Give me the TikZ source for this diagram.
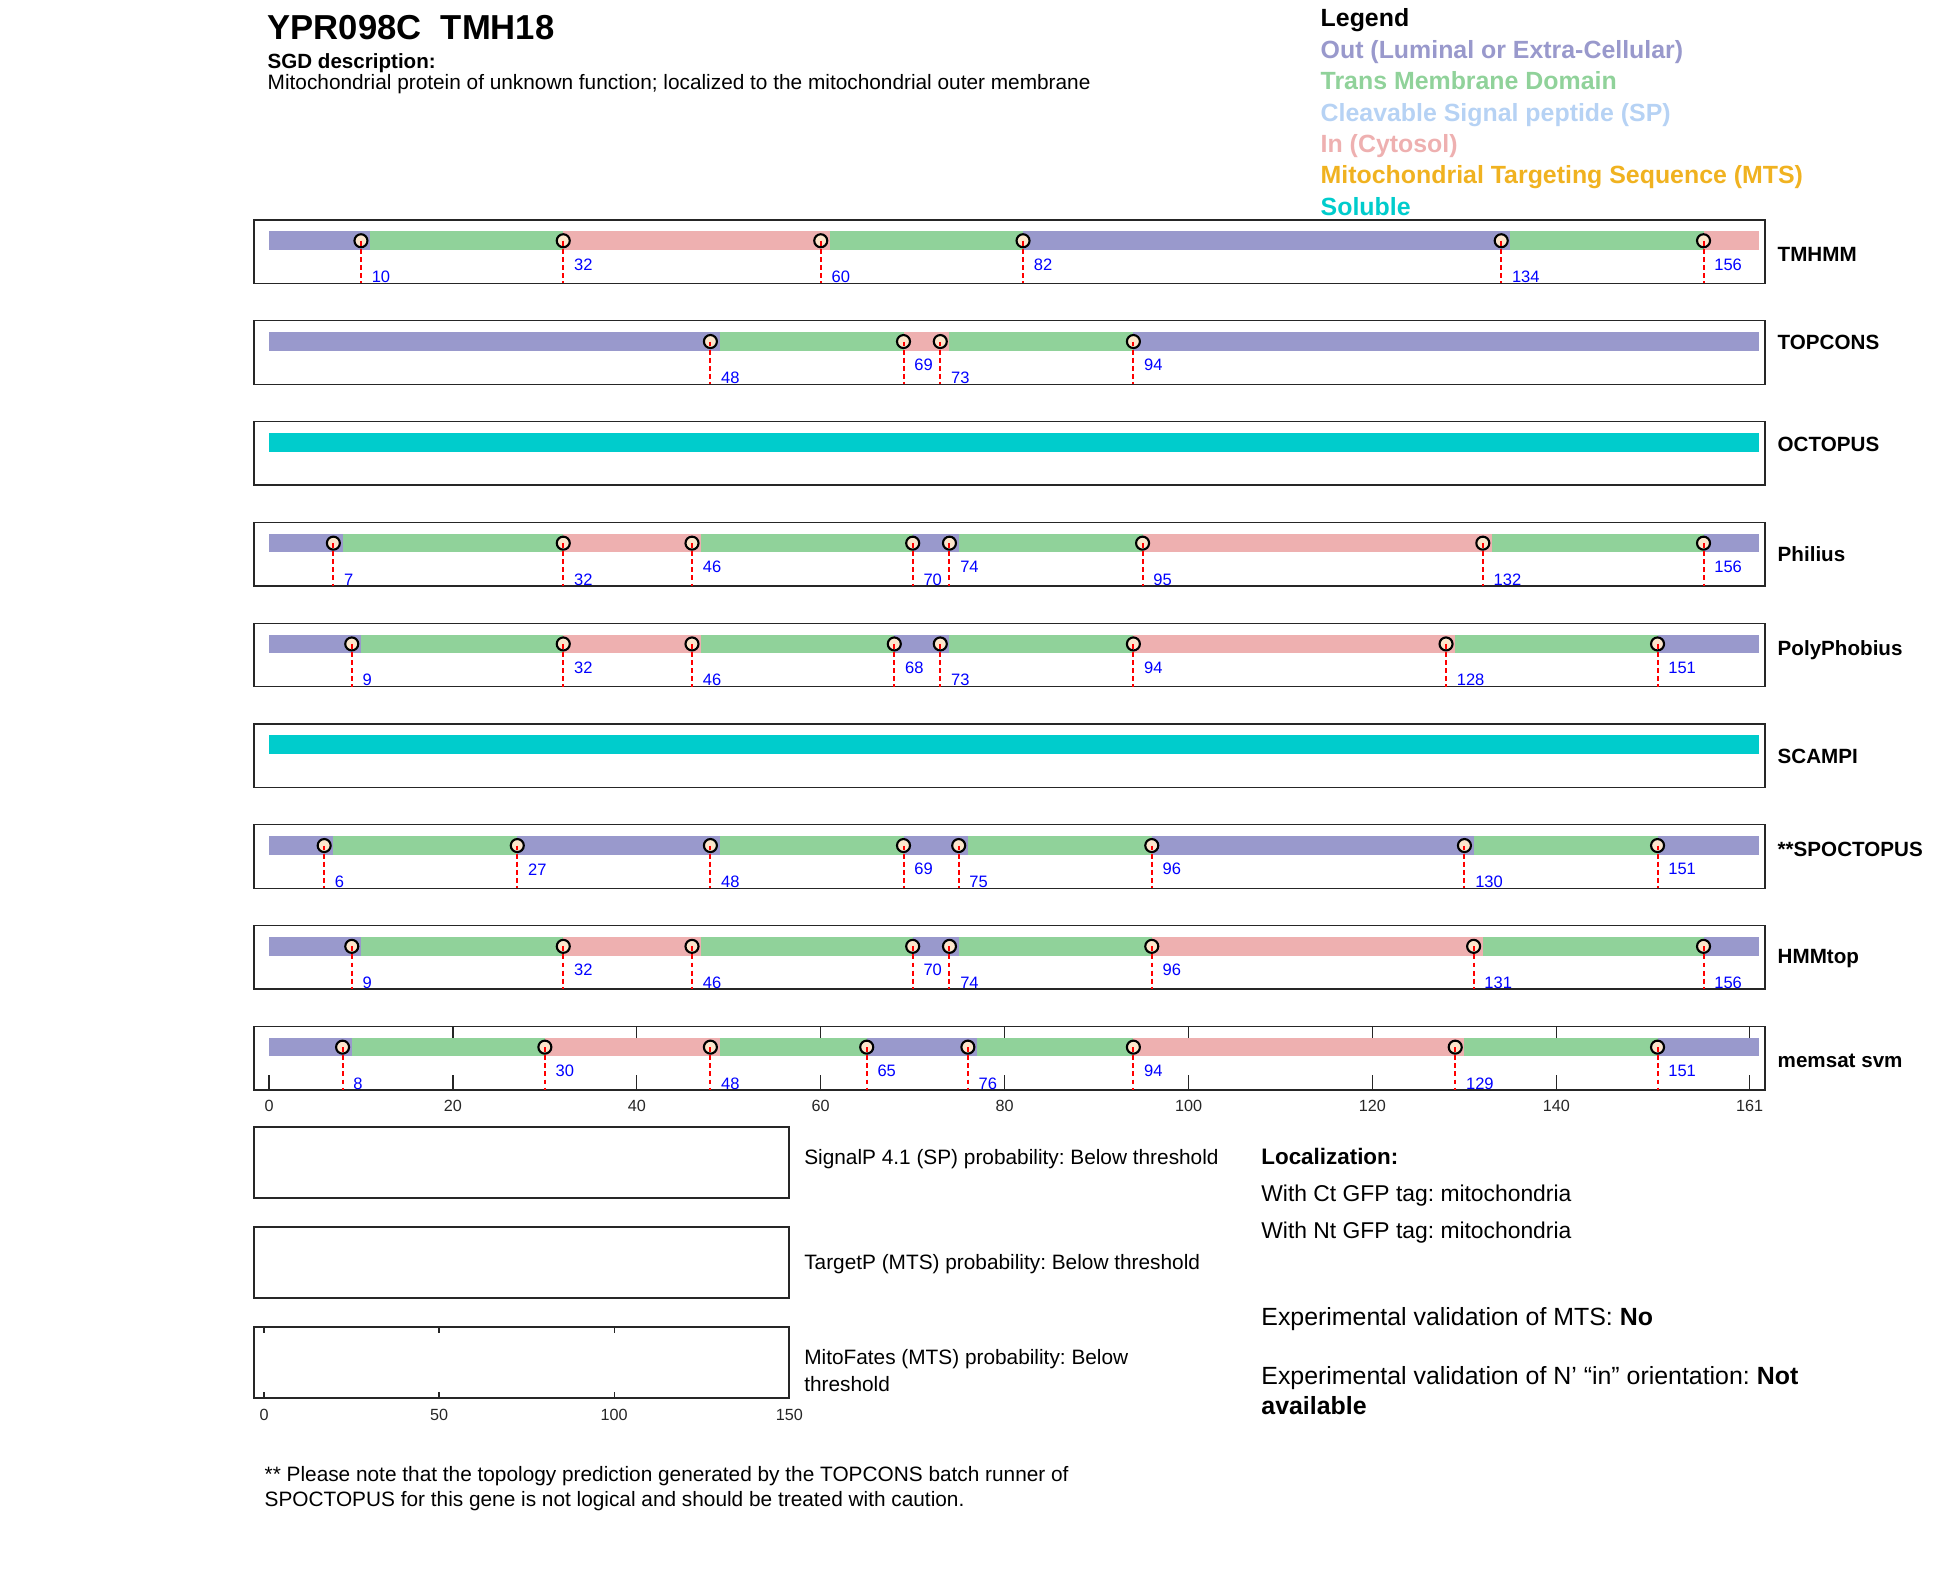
\documentclass[tikz,border=0pt]{standalone}
\usepackage{fontspec}
\setmainfont{Liberation Sans}
\frenchspacing

\definecolor{coulOut}{RGB}{153,153,204}
\definecolor{coulTM}{RGB}{144,210,154}
\definecolor{coulSP}{RGB}{182,210,244}
\definecolor{coulIn}{RGB}{238,176,176}
\definecolor{coulMTS}{RGB}{240,178,32}
\definecolor{coulSol}{RGB}{0,204,204}
\definecolor{axe}{RGB}{38,38,38}
\definecolor{peau}{RGB}{252,230,204}

\newcommand{\taille}[1]{\fontsize{#1pt}{#1pt}\selectfont}

\tikzset{
  cadre/.style={draw=axe, line width=0.37pt},
  repere/.style={circle, draw=black, fill=peau, line width=0.6pt, minimum size=3.7pt, inner sep=0pt},
  tirets/.style={red, line width=0.57pt, dash pattern=on 1.4pt off 0.9pt},
  numero/.style={blue, anchor=west, inner sep=0pt, font=\taille{4.7}},
  methode/.style={anchor=base west, inner sep=0pt, font=\taille{5.86}\bfseries},
  legende/.style={anchor=base west, inner sep=0pt, font=\taille{7.08}\bfseries},
  texte/.style={anchor=base west, inner sep=0pt, font=\taille{5.92}},
  graduation/.style={axe, line width=0.37pt},
  etiq/.style={axe, inner sep=0pt, font=\taille{4.6}},
}

% une piste : #1 nom, #2 haut du cadre, #3 troncons, #4 reperes, #5 methode, #6 ligne de base
\newcommand{\piste}[6]{%
  \begin{scope}[shift={(269,#2)}, x=0.0919cm]
    \foreach \a/\b/\c in {#3}
      \fill[\c] (\a,11.5) rectangle (\b,30);
    \draw[cadre] (-1.632,0) rectangle (162.68,63.5);
    \foreach \v/\y in {#4} {
      \node[repere] (#1-\v) at (\v,20.75) {};
      \draw[tirets] (#1-\v.center) -- (\v,63.5);
      \node[numero] (#1-n\v) at (\v+1.1,\y) {\v};
    }
  \end{scope}
  \node[methode] (#1) at (1777,#6) {#5};}

\begin{document}
\begin{tikzpicture}[x=0.01cm, y=-0.01cm]
\useasboundingbox (0,0) rectangle (1950,1573);

% en-tete
\node[anchor=base west, inner sep=0pt, font=\taille{9.85}\bfseries] (titre) at (267,39.3) {YPR098C~~TMH18};
\node[anchor=base west, inner sep=0pt, font=\taille{5.85}\bfseries] (sgd) at (267,68.5) {SGD description:};
\node[texte] (descr) at (267,90) {Mitochondrial protein of unknown function; localized to the mitochondrial outer membrane};

% legende
\node[legende] (leg) at (1320,26.7) {Legend};
\node[legende, coulOut] (leg-out) at (1320,58.3) {Out (Luminal or Extra-Cellular)};
\node[legende, coulTM] (leg-tm) at (1320,89.7) {Trans Membrane Domain};
\node[legende, coulSP] (leg-sp) at (1320,121.1) {Cleavable Signal peptide (SP)};
\node[legende, coulIn] (leg-in) at (1320,152.5) {In (Cytosol)};
\node[legende, coulMTS] (leg-mts) at (1320,183.9) {Mitochondrial Targeting Sequence (MTS)};
\node[legende, coulSol] (leg-sol) at (1320,215.3) {Soluble};

% pistes
\piste{tmhmm}{220}{0/11/coulOut, 11/32/coulTM, 32/61/coulIn, 61/82/coulTM, 82/135/coulOut, 135/156/coulTM, 156/162/coulIn}
  {10/57, 32/44.5, 60/57, 82/44.5, 134/57, 156/44.5}{TMHMM}{261.4}
\piste{topcons}{320.8}{0/49/coulOut, 49/69/coulTM, 69/74/coulIn, 74/94/coulTM, 94/162/coulOut}
  {48/57, 69/44.5, 73/57, 94/44.5}{TOPCONS}{350}
\piste{octopus}{421.6}{0/162/coulSol}{}{OCTOPUS}{451.4}
\piste{philius}{522.4}{0/8/coulOut, 8/32/coulTM, 32/47/coulIn, 47/70/coulTM, 70/75/coulOut, 75/95/coulTM, 95/133/coulIn, 133/156/coulTM, 156/162/coulOut}
  {7/57, 32/57, 46/44.5, 70/57, 74/44.5, 95/57, 132/57, 156/44.5}{Philius}{562}
\piste{polyphobius}{623.2}{0/10/coulOut, 10/32/coulTM, 32/47/coulIn, 47/68/coulTM, 68/74/coulOut, 74/94/coulTM, 94/129/coulIn, 129/151/coulTM, 151/162/coulOut}
  {9/57, 32/44.5, 46/57, 68/44.5, 73/57, 94/44.5, 128/57, 151/44.5}{PolyPhobius}{655.4}
\piste{scampi}{724}{0/162/coulSol}{}{SCAMPI}{763.4}
\piste{spoctopus}{824.8}{0/7/coulOut, 7/27/coulTM, 27/49/coulOut, 49/69/coulTM, 69/76/coulOut, 76/96/coulTM, 96/131/coulOut, 131/151/coulTM, 151/162/coulOut}
  {6/57, 27/44.5, 48/57, 69/44.5, 75/57, 96/44.5, 130/57, 151/44.5}{**SPOCTOPUS}{856.8}
\piste{hmmtop}{925.6}{0/10/coulOut, 10/32/coulTM, 32/47/coulIn, 47/70/coulTM, 70/75/coulOut, 75/96/coulTM, 96/132/coulIn, 132/156/coulTM, 156/162/coulOut}
  {9/57, 32/44.5, 46/57, 70/44.5, 74/57, 96/44.5, 131/57, 156/57}{HMMtop}{963.7}
\piste{memsat}{1026.4}{0/9/coulOut, 9/30/coulTM, 30/49/coulIn, 49/65/coulTM, 65/77/coulOut, 77/94/coulTM, 94/130/coulIn, 130/151/coulTM, 151/162/coulOut}
  {8/57, 30/44.5, 48/57, 65/44.5, 76/57, 94/44.5, 129/57, 151/44.5}{memsat svm}{1067.5}

% axe des residus
\begin{scope}[shift={(269,1026.4)}, x=0.0919cm]
  \foreach \t in {0,20,40,60,80,100,120,140,161} {
    \draw[graduation] (\t,63.5) -- (\t,48.5); % bas
    \node[etiq] (axe-\t) at (\t,79.6) {\t};
  }
  \foreach \t in {20,40,60,80,100,120,140,161}
    \draw[graduation] (\t,0) -- (\t,11.5); % haut
\end{scope}

% predictions SP et MTS
\draw[cadre] (254,1127) rectangle (789,1198);
\node[texte] (signalp) at (803.6,1165) {SignalP 4.1 (SP) probability: Below threshold};
\draw[cadre] (254,1227) rectangle (789,1298);
\node[texte] (targetp) at (803.6,1270) {TargetP (MTS) probability: Below threshold};
\draw[cadre] (254,1327) rectangle (789,1398);
\node[texte] (mitofates) at (803.6,1365) {MitoFates (MTS) probability: Below};
\node[texte] (mitofates2) at (803.6,1391.7) {threshold};
\begin{scope}[shift={(264,1327)}, x=0.035cm]
  \foreach \t in {0,50,100} {
    \draw[graduation] (\t,0) -- (\t,6); % haut
    \draw[graduation] (\t,71) -- (\t,65); % bas
  }
  \foreach \t in {0,50,100,150}
    \node[etiq] (mf-\t) at (\t,88) {\t};
\end{scope}

% localisation
\node[anchor=base west, inner sep=0pt, font=\taille{6.37}\bfseries] (loc) at (1260.7,1165) {Localization:};
\node[anchor=base west, inner sep=0pt, font=\taille{6.5}] (loc-ct) at (1260.7,1201.7) {With Ct GFP tag: mitochondria};
\node[anchor=base west, inner sep=0pt, font=\taille{6.5}] (loc-nt) at (1260.7,1238.3) {With Nt GFP tag: mitochondria};
\node[anchor=base west, inner sep=0pt, font=\taille{7.08}] (valid-mts) at (1260.7,1325) {Experimental validation of MTS: \textbf{No}};
\node[anchor=base west, inner sep=0pt, font=\taille{7.08}] (valid-n) at (1260.7,1385) {Experimental validation of N’ “in” orientation: \textbf{Not}};
\node[anchor=base west, inner sep=0pt, font=\taille{7.08}\bfseries] (valid-n2) at (1260.7,1415) {available};

% note
\node[texte] (note) at (264,1481.7) {** Please note that the topology prediction generated by the TOPCONS batch runner of};
\node[texte] (note2) at (264,1506.7) {SPOCTOPUS for this gene is not logical and should be treated with caution.};
\end{tikzpicture}
\end{document}
